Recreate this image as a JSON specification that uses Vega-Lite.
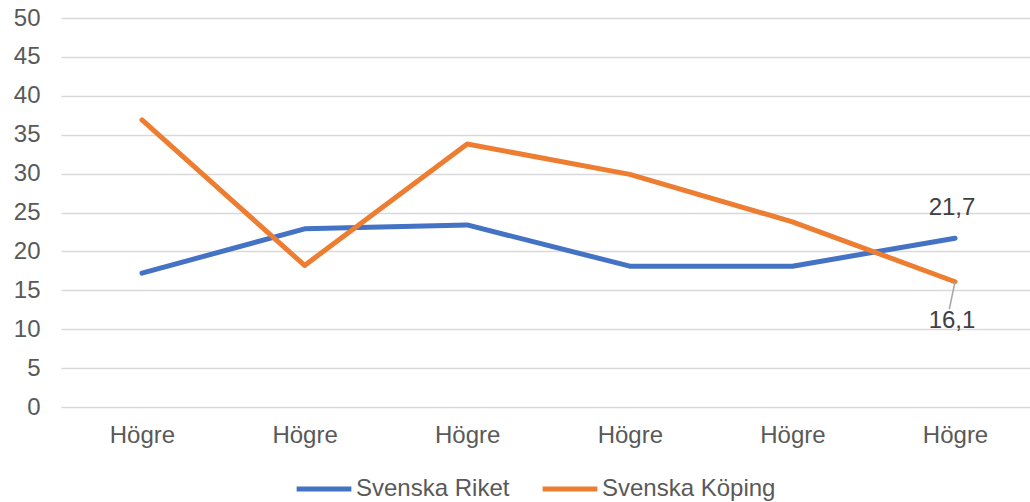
{
  "$schema": "https://vega.github.io/schema/vega-lite/v6.json",
  "autosize": {"type": "none"},
  "width": 969,
  "height": 389,
  "padding": {"left": 61, "top": 18, "right": 0, "bottom": 95},
  "background": "#ffffff",
  "config": {
    "view": {"stroke": null},
    "font": "Liberation Sans",
    "axis": {"labelFont": "Liberation Sans", "labelFontSize": 24, "labelColor": "#595959"}
  },
  "datasets": {
    "series": [
      {"kategori": "Högre", "nr": 1, "serie": "Svenska Riket", "varde": 17.2},
      {"kategori": "Högre", "nr": 2, "serie": "Svenska Riket", "varde": 22.9},
      {"kategori": "Högre", "nr": 3, "serie": "Svenska Riket", "varde": 23.4},
      {"kategori": "Högre", "nr": 4, "serie": "Svenska Riket", "varde": 18.1},
      {"kategori": "Högre", "nr": 5, "serie": "Svenska Riket", "varde": 18.1},
      {"kategori": "Högre", "nr": 6, "serie": "Svenska Riket", "varde": 21.7, "etikett": "21,7"},
      {"kategori": "Högre", "nr": 1, "serie": "Svenska Köping", "varde": 36.9},
      {"kategori": "Högre", "nr": 2, "serie": "Svenska Köping", "varde": 18.2},
      {"kategori": "Högre", "nr": 3, "serie": "Svenska Köping", "varde": 33.8},
      {"kategori": "Högre", "nr": 4, "serie": "Svenska Köping", "varde": 29.9},
      {"kategori": "Högre", "nr": 5, "serie": "Svenska Köping", "varde": 23.8},
      {"kategori": "Högre", "nr": 6, "serie": "Svenska Köping", "varde": 16.1, "etikett": "16,1"}
    ],
    "leader": [
      {"nr": 6, "varde": 16.1, "nr2": 5.965, "varde2": 12.6}
    ]
  },
  "encoding": {
    "x": {
      "field": "nr", "type": "quantitative",
      "scale": {"domain": [0.502, 6.461], "nice": false, "zero": false},
      "axis": {
        "values": [1, 2, 3, 4, 5, 6], "labelExpr": "'Högre'", "title": null,
        "grid": false, "ticks": false, "domain": false, "labelPadding": 16,
        "labelFlush": false, "labelOverlap": false
      }
    },
    "y": {
      "field": "varde", "type": "quantitative",
      "scale": {"domain": [0, 50], "nice": false},
      "axis": {
        "values": [0, 5, 10, 15, 20, 25, 30, 35, 40, 45, 50], "title": null,
        "grid": true, "gridColor": "#d9d9d9", "gridWidth": 1.5,
        "ticks": false, "domain": false, "labelPadding": 21,
        "labelOverlap": false, "labelFlush": false
      }
    }
  },
  "layer": [
    {
      "data": {"name": "series"},
      "mark": {"type": "line", "strokeWidth": 5, "strokeCap": "round", "strokeJoin": "round"},
      "encoding": {
        "color": {
          "field": "serie", "type": "nominal",
          "scale": {"domain": ["Svenska Riket", "Svenska Köping"], "range": ["#4472C4", "#ED7D31"]},
          "legend": {
            "title": null, "orient": "none", "direction": "horizontal",
            "legendX": 233, "legendY": 441,
            "symbolType": "stroke", "symbolSize": 3000, "symbolStrokeWidth": 5,
            "labelFont": "Liberation Sans", "labelFontSize": 24, "labelColor": "#595959",
            "labelOffset": 2, "columnPadding": 22, "labelLimit": 300
          }
        }
      }
    },
    {
      "data": {"name": "leader"},
      "mark": {"type": "rule", "color": "#a6a6a6", "strokeWidth": 1.5},
      "encoding": {
        "x2": {"field": "nr2"},
        "y2": {"field": "varde2"}
      }
    },
    {
      "data": {"name": "series"},
      "transform": [{"filter": "datum.serie == 'Svenska Riket' && datum.etikett != null"}],
      "mark": {"type": "text", "fontSize": 24, "font": "Liberation Sans", "color": "#404040", "dx": -3, "dy": -30},
      "encoding": {
        "text": {"field": "etikett"}
      }
    },
    {
      "data": {"name": "series"},
      "transform": [{"filter": "datum.serie == 'Svenska Köping' && datum.etikett != null"}],
      "mark": {"type": "text", "fontSize": 24, "font": "Liberation Sans", "color": "#404040", "dx": -3, "dy": 39},
      "encoding": {
        "text": {"field": "etikett"}
      }
    }
  ]
}
